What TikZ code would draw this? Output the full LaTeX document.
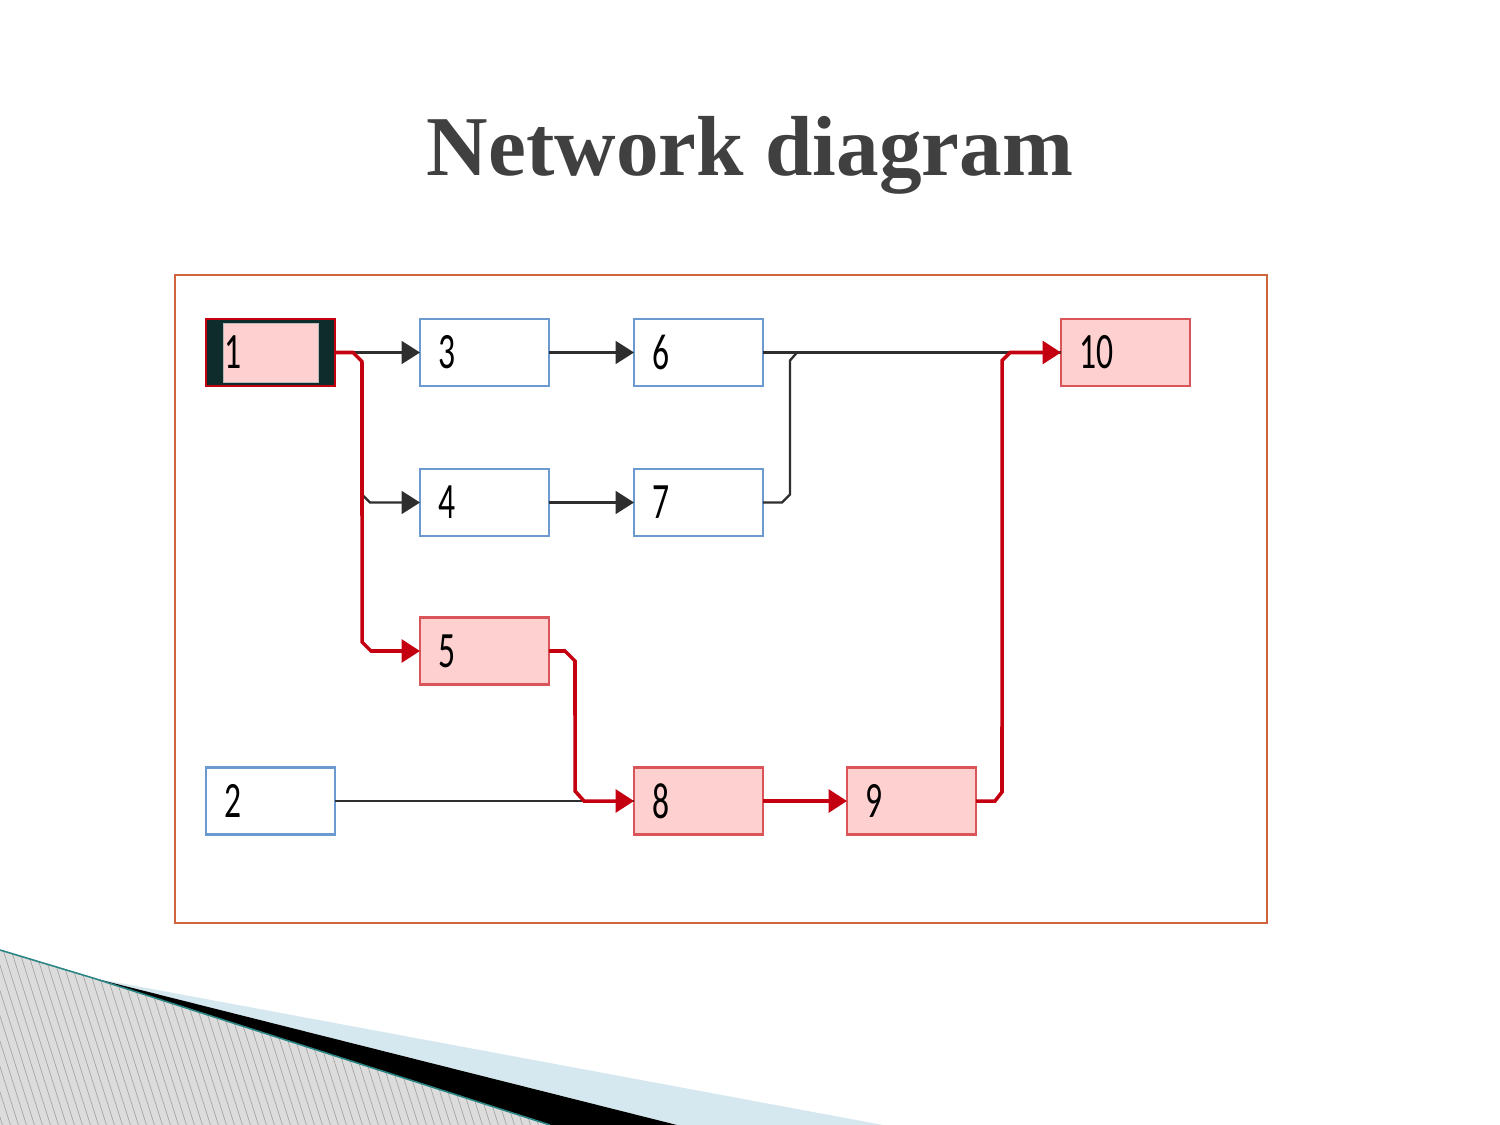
\documentclass[tikz,border=0pt]{standalone}
\usepackage{fontspec}
\setmainfont{Liberation Serif}
\newfontfamily\boxfont{Carlito}
\usetikzlibrary{arrows.meta,calc}
\definecolor{titlegray}{HTML}{404040}
\definecolor{framecol}{HTML}{D0643C}
\definecolor{boxblue}{HTML}{6C9AD0}
\definecolor{boxpink}{HTML}{FFD0D0}
\definecolor{pinkedge}{HTML}{D9555A}
\definecolor{critred}{HTML}{C40010}
\definecolor{linegray}{HTML}{2E2E2E}
\definecolor{barteal}{HTML}{0E2C2C}
\definecolor{decoblue}{HTML}{D6E8EF}
\definecolor{decogray}{HTML}{DCDCDC}
\definecolor{hatchgray}{HTML}{A0A0A0}
\definecolor{decoteal}{HTML}{2A8585}
\tikzset{
  taskbox/.style={rectangle, minimum width=2.58cm, minimum height=1.34cm,
    inner xsep=0.36cm, inner ysep=0pt, outer sep=0pt, text width=1.86cm, align=left,
    font=\boxfont\fontsize{29}{30}\selectfont, line width=1.2pt},
  plainbox/.style={taskbox, draw=boxblue, fill=white},
  critbox/.style={taskbox, draw=pinkedge, fill=boxpink},
  startbox/.style={taskbox, draw=critred, fill=barteal, line width=1.5pt,
    path picture={\filldraw[fill=boxpink, draw=gray!55, line width=0.5pt]
      ($(path picture bounding box.south west)+(17,-4)$) rectangle
      ($(path picture bounding box.north east)+(-17,4)$);}},
  blk/.style={draw=linegray, line width=1.3pt},
  red/.style={draw=critred, line width=2pt},
  blkarrow/.style={blk, -{Triangle[length=10.5pt, width=13pt]}},
  redarrow/.style={red, -{Triangle[length=10.5pt, width=13pt, fill=critred]}},
}
\newcommand{\digits}[1]{\scalebox{0.66}[1]{#1}}
\begin{document}
\begin{tikzpicture}[x=0.02cm, y=-0.02cm]
\useasboundingbox (0,0) rectangle (1500,1125);
\fill[white] (0,0) rectangle (1500,1125);

% bottom-left decoration
\fill[decoblue] (93,978) -- (883,1125) -- (677,1125) -- cycle;
\fill[black] (93,978) -- (677,1125) -- (550,1125) -- cycle;
\fill[decogray] (0,950) -- (93,978) -- (550,1125) -- (0,1125) -- cycle;
\begin{scope}
  \clip (0,950) -- (93,978) -- (550,1125) -- (0,1125) -- cycle;
  \foreach \i in {-80,-72,...,560} \draw[hatchgray, line width=0.35pt] (\i,940) -- ++(60,190);
\end{scope}
\draw[decoteal, line width=0.9pt] (0,950) -- (93,978) -- (550,1125);

% title
\node[anchor=base, text=titlegray, font=\bfseries\fontsize{48.5}{52}\selectfont] (title) at (750,176) {Network diagram};

% frame
\draw[framecol, line width=0.9pt] (175,275) rectangle (1267,923);

% nodes
\node[startbox] (n1) at (270.5,352.5) {\digits{1}};
\node[plainbox] (n3) at (484.5,352.5) {\digits{3}};
\node[plainbox] (n6) at (698.5,352.5) {\digits{6}};
\node[critbox]  (n10) at (1125.5,352.5) {\digits{10}};
\node[plainbox] (n4) at (484.5,502.5) {\digits{4}};
\node[plainbox] (n7) at (698.5,502.5) {\digits{7}};
\node[critbox]  (n5) at (484.5,651) {\digits{5}};
\node[plainbox] (n2) at (270.5,801) {\digits{2}};
\node[critbox]  (n8) at (698.5,801) {\digits{8}};
\node[critbox]  (n9) at (911.5,801) {\digits{9}};

% black connectors
\draw[blkarrow] (n1.east) -- (n3.west);
\draw[blkarrow] (n1.east) -- ++(18,0) -- ++(9,9) -- ($(n4.west)+(-58,-8)$) -- ++(8,8) -- (n4.west);
\draw[blkarrow] (n3.east) -- (n6.west);
\draw[blkarrow] (n4.east) -- (n7.west);
\draw[blk] (n6.east) -- (n10.west);
\draw[blk] (n7.east) -- ++(19,0) -- ++(8,-8) -- ($(n6.east)+(27,8)$) -- ++(7,-8);
\draw[blk] (n2.east) -- (n8.west);

% critical path connectors
\draw[redarrow] (n1.east) -- ++(18,0) -- ++(9,9) -- ($(n5.west)+(-58,-9)$) -- ++(9,9) -- (n5.west);
\draw[redarrow] (n5.east) -- ++(16,0) -- ++(10,10) -- ($(n8.west)+(-59,-10)$) -- ++(9,10) -- (n8.west);
\draw[redarrow] (n8.east) -- (n9.west);
\draw[redarrow] (n9.east) -- ++(19,0) -- ++(7,-9) -- ($(n10.west)+(-59,8)$) -- ++(8,-8) -- (n10.west);
\end{tikzpicture}
\end{document}
